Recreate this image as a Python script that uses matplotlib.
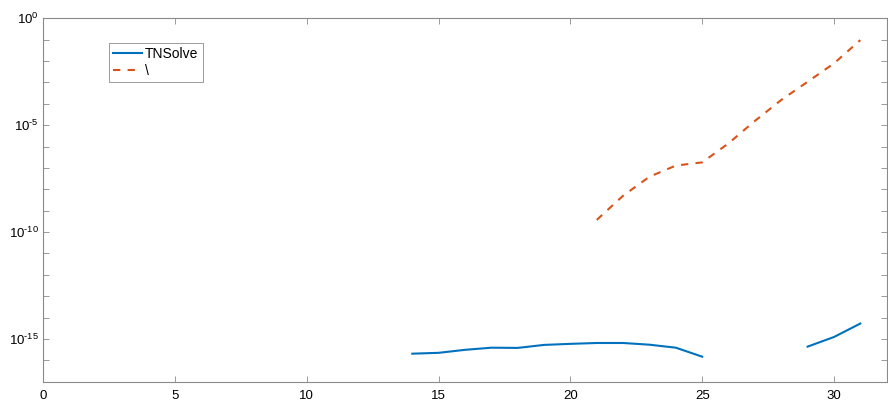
import numpy as np
import matplotlib
matplotlib.use("Agg")
import matplotlib.pyplot as plt

plt.rcParams['font.family'] = ['Liberation Sans', 'DejaVu Sans']
plt.rcParams['mathtext.fontset'] = 'custom'
plt.rcParams['mathtext.rm'] = 'Liberation Sans'
plt.rcParams['mathtext.it'] = 'Liberation Sans:italic'
plt.rcParams['axes.unicode_minus'] = False

# problem size (x axis)
n_tn = [14, 15, 16, 17, 18, 19, 20, 21, 22, 23, 24, 25, 26, 27, 28, 29, 30, 31]
# log10 of error, nan where nothing was plotted
log_err_tn = [-15.69, -15.65, -15.51, -15.41, -15.42, -15.28, -15.23, -15.19, -15.19,
              -15.27, -15.41, -15.83, np.nan, np.nan, np.nan, -15.36, -14.91, -14.28]

n_bs = [21, 22, 23, 24, 25, 26, 27, 28, 29, 30, 31]
log_err_bs = [-9.43, -8.30, -7.41, -6.89, -6.74, -5.85, -4.80, -3.82, -2.97, -2.11, -1.02]

err_tn = 10.0 ** np.array(log_err_tn)
err_bs = 10.0 ** np.array(log_err_bs)

blue = '#0072BD'
orange = '#D95319'
axis_col = '#8a8a8a'
font_size = 9.5

fig = plt.figure(figsize=(8.88, 4.03), dpi=100)
ax = fig.add_axes([0.0488, 0.0529, 0.9497, 0.9017])

ax.plot(n_tn, err_tn, color=blue, lw=1.5, label='TNSolve')
ax.plot(n_bs, err_bs, color=orange, lw=1.5, ls=(0, (3.5, 3.5)), label='\\')

ax.set_yscale('log')
ax.set_xlim(0, 32)
ax.set_ylim(1e-17, 1)

ax.set_xticks([0, 5, 10, 15, 20, 25, 30])
yt = [10.0 ** k for k in range(-17, 1)]
ylab = ['$10^{\\text{%d}}$' % k if k % 5 == 0 else '' for k in range(-17, 1)]
ax.set_yticks(yt)
ax.set_yticklabels(ylab)
ax.minorticks_off()

ax.tick_params(direction='in', length=4, width=0.6, colors=axis_col,
               labelcolor='black', labelsize=font_size, top=True, right=True)
ax.tick_params(axis='x', pad=6)
for sp in ax.spines.values():
    sp.set_color(axis_col)
    sp.set_linewidth(0.8)

leg = ax.legend(loc='upper left', bbox_to_anchor=(0.078, 0.933), fontsize=10,
                frameon=True, fancybox=False, framealpha=1, edgecolor=axis_col,
                handlelength=2.1, handletextpad=0.2, borderpad=0.3, labelspacing=0.2,
                borderaxespad=0)
leg.get_frame().set_linewidth(0.6)

plt.savefig('out.png', dpi=100)
